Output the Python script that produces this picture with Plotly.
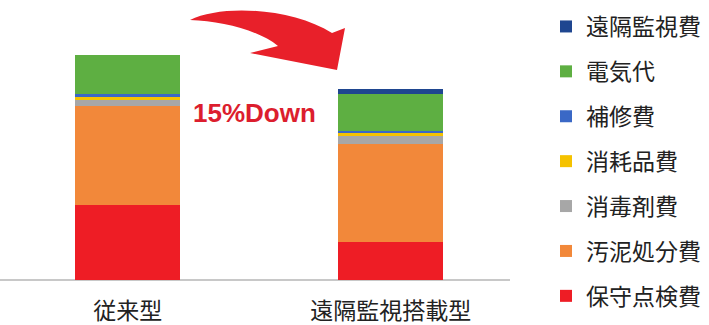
import plotly.graph_objects as go

# Cost breakdown of two system types (index: conventional total = 100)
categories = ["従来型", "遠隔監視搭載型"]

cost_items = ["保守点検費", "汚泥処分費", "消毒剤費", "消耗品費", "補修費", "電気代", "遠隔監視費"]
maintenance = [33.5, 43.8, 2.7, 1.3, 1.3, 17.4, 0.0]
remote = [17.0, 43.3, 3.6, 1.3, 0.9, 16.5, 2.2]
item_colors = ["#EE1D25", "#F2883A", "#A7A7A7", "#F5C200", "#3A68C6", "#5EAF42", "#1F4690"]

reduction_label = "15%Down"

W, H = 709, 325
ML, MR, MT, MB = 0, 199, 0, 0
PW, PH = W - ML - MR, H - MT - MB
BASE_PX = 280          # pixel row of the category axis
UNIT_PX = 2.25         # pixels per cost unit


def px(x):
    return (x - ML) / PW


def py(y):
    return 1 - (y - MT) / PH


y_low = -(H - MB - BASE_PX) / UNIT_PX
y_high = y_low + PH / UNIT_PX

fig = go.Figure()
n = len(cost_items)
for i, name in enumerate(cost_items):
    fig.add_trace(go.Bar(
        x=categories,
        y=[maintenance[i], remote[i]],
        name=name,
        legendgroup=name,
        legendrank=n - i,
        marker=dict(color=item_colors[i], line=dict(width=0)),
        width=0.4,
        hoverinfo="name+y",
    ))

# Curved arrow between the two bars (pixel outline converted to paper units)
arrow = [(190, 20), (222, 4), (292, 8), (332, 33), (345, 28), (337, 70), (250, 53),
         (278, 46), (258, 30), (222, 21)]
P = [(px(x), py(y)) for x, y in arrow]
path = (f"M{P[0][0]},{P[0][1]} "
        f"C{P[1][0]},{P[1][1]} {P[2][0]},{P[2][1]} {P[3][0]},{P[3][1]} "
        f"L{P[4][0]},{P[4][1]} L{P[5][0]},{P[5][1]} "
        f"L{P[6][0]},{P[6][1]} L{P[7][0]},{P[7][1]} "
        f"C{P[8][0]},{P[8][1]} {P[9][0]},{P[9][1]} {P[0][0]},{P[0][1]} Z")

fig.add_shape(type="path", path=path, xref="paper", yref="paper",
              fillcolor="#E8202A", line=dict(width=0), layer="above")

fig.add_annotation(
    x=px(254), y=py(113), xref="paper", yref="paper",
    text=f"<b>{reduction_label}</b>", showarrow=False,
    font=dict(family="Liberation Sans, Arial", size=26, color="#DC1E2E"),
)

fig.update_layout(
    width=W, height=H,
    margin=dict(l=ML, r=MR, t=MT, b=MB, autoexpand=False),
    barmode="stack",
    bargap=0,
    paper_bgcolor="white",
    plot_bgcolor="white",
    font=dict(family="Noto Sans CJK JP", size=23, color="#222222"),
    xaxis=dict(
        range=[-0.485, 1.453],
        anchor="free", position=(H - BASE_PX) / PH,
        automargin=False,
        showgrid=False, zeroline=False,
        showline=False,
        ticks="outside", ticklen=10, tickcolor="rgba(0,0,0,0)",
        tickfont=dict(size=23, color="#222222"),
    ),
    yaxis=dict(
        range=[y_low, y_high],
        automargin=False,
        showgrid=False, zeroline=True, zerolinecolor="#C8C8C8", zerolinewidth=1.5,
        showticklabels=False, showline=False,
    ),
    legend=dict(
        traceorder="grouped",
        x=px(546), xanchor="left",
        y=py(5), yanchor="top",
        font=dict(size=23, color="#222222"),
        tracegroupgap=12,
        bgcolor="rgba(0,0,0,0)",
    ),
)

fig.write_html("out.html")
